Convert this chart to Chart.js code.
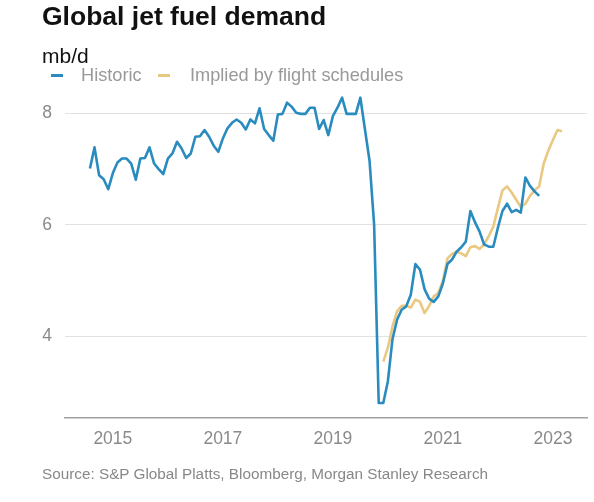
<!DOCTYPE html>
<html>
<head>
<meta charset="utf-8">
<script src="https://cdn.jsdelivr.net/npm/chart.js@4.4.0/dist/chart.umd.min.js"></script>
<style>
  html, body { margin: 0; padding: 0; background: #fff; }
  body { width: 594px; height: 502px; position: relative; overflow: hidden;
         font-family: "Liberation Sans", Arial, sans-serif; }
  #chart { position: absolute; left: 0; top: 0; }
  .txt { position: absolute; white-space: nowrap; line-height: 1; }
  #title { left: 42px; top: 3px; font-size: 26.5px; font-weight: bold; color: #111; }
  #unit { left: 42px; top: 45px; font-size: 21px; color: #111; }
  #legend { left: 0; top: 66px; font-size: 18.2px; color: #999; }
  #legend .item { position: absolute; top: 0; }
  #legend .dash { position: absolute; top: 8px; width: 12px; height: 2.5px; }
  #source { left: 42px; top: 466px; font-size: 15.3px; color: #888; }
</style>
</head>
<body>
<canvas id="chart" width="594" height="502"></canvas>
<div id="title" class="txt">Global jet fuel demand</div>
<div id="unit" class="txt">mb/d</div>
<div id="legend" class="txt"></div>
<div id="source" class="txt">Source: S&amp;P Global Platts, Bloomberg, Morgan Stanley Research</div>
<script>
// monthly series
const historicStart = '2014-08';
const historic = [
  7.01, 7.39, 6.89, 6.82, 6.64, 6.93, 7.12, 7.19, 7.19, 7.10,
  6.81, 7.19, 7.20, 7.39, 7.10, 7.00, 6.91, 7.19, 7.28, 7.49,
  7.37, 7.20, 7.28, 7.58, 7.59, 7.70, 7.58, 7.42, 7.31, 7.55,
  7.73, 7.83, 7.89, 7.83, 7.71, 7.89, 7.82, 8.09, 7.72, 7.61,
  7.51, 7.98, 7.99, 8.19, 8.12, 8.01, 7.99, 7.99, 8.10, 8.10,
  7.72, 7.88, 7.61, 7.95, 8.10, 8.28, 7.99, 7.99, 7.99, 8.28,
  7.71, 7.15, 6.00, 2.81, 2.81, 3.20, 3.95, 4.30, 4.48, 4.54,
  4.75, 5.30, 5.20, 4.85, 4.68, 4.62, 4.72, 4.95, 5.30, 5.38,
  5.52, 5.60, 5.70, 6.25, 6.05, 5.88, 5.65, 5.61, 5.61, 5.95,
  6.25, 6.38, 6.23, 6.27, 6.22, 6.85, 6.70, 6.60, 6.52
];
const impliedStart = '2019-12';
const implied = [
  3.55, 3.80, 4.18, 4.45, 4.55, 4.55, 4.52, 4.66, 4.62, 4.42,
  4.55, 4.72, 4.78, 5.00, 5.40, 5.48, 5.52, 5.49, 5.44, 5.60,
  5.62, 5.57, 5.65, 5.80, 5.97, 6.30, 6.62, 6.69, 6.58, 6.45,
  6.32, 6.38, 6.52, 6.62, 6.69, 7.10, 7.33, 7.52, 7.70, 7.68
];
const seriesNames = ['Historic', 'Implied by flight schedules'];
const seriesColors = ['#2a8bbf', '#e9c982'];
const yearTicks = [2015, 2017, 2019, 2021, 2023];
const valueTicks = [4, 6, 8];

function toPoints(start, values) {
  const [y, m] = start.split('-').map(Number);
  return values.map((v, i) => ({ x: y + (m - 1 + i) / 12, y: v }));
}

const tickFont = { family: '"Liberation Sans", Arial, sans-serif', size: 17.5 };

const chart = new Chart(document.getElementById('chart'), {
  type: 'line',
  data: {
    datasets: [
      { label: seriesNames[0], data: toPoints(historicStart, historic) },
      { label: seriesNames[1], data: toPoints(impliedStart, implied) }
    ].map((d, i) => Object.assign(d, {
      borderColor: seriesColors[i], borderWidth: 2.6, pointRadius: 0,
      tension: 0, fill: false, borderJoinStyle: 'round'
    }))
  },
  options: {
    responsive: false,
    animation: false,
    layout: { padding: { left: 0, top: 91, right: 7, bottom: 44 } },
    plugins: { legend: { display: false }, tooltip: { enabled: false } },
    scales: {
      x: {
        type: 'linear', min: 2014.13, max: 2023.62,
        afterBuildTicks: s => { s.ticks = yearTicks.map(v => ({ value: v })); },
        afterFit: s => { s.height = 40; },
        grid: { color: 'rgba(0,0,0,0)', drawTicks: false },
        border: { display: true, color: '#a0a0a0', width: 1.5 },
        ticks: { color: '#8a8a8a', font: tickFont, padding: 11, maxRotation: 0,
                 autoSkip: false, callback: v => String(v) }
      },
      y: {
        min: 2.54, max: 8.4,
        afterBuildTicks: s => { s.ticks = valueTicks.map(v => ({ value: v })); },
        afterFit: s => { s.width = 65; },
        grid: { color: '#e2e2e2', lineWidth: 1, drawTicks: false },
        border: { display: false },
        ticks: { color: '#8a8a8a', font: tickFont, padding: 13, callback: v => String(v) }
      }
    }
  }
});

// legend built from the datasets
const legend = document.getElementById('legend');
const legendX = [[51, 81], [158, 190]];
chart.data.datasets.forEach((d, i) => {
  const dash = document.createElement('div');
  dash.className = 'dash';
  dash.style.left = legendX[i][0] + 'px';
  dash.style.background = d.borderColor;
  legend.appendChild(dash);
  const item = document.createElement('div');
  item.className = 'item';
  item.style.left = legendX[i][1] + 'px';
  item.textContent = d.label;
  legend.appendChild(item);
});
</script>
</body>
</html>
